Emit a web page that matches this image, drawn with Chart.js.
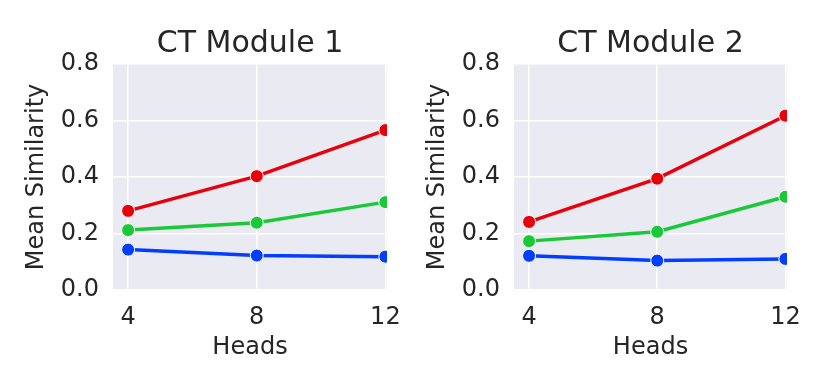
<!DOCTYPE html>
<html>
<head>
<meta charset="utf-8">
<script src="https://cdn.jsdelivr.net/npm/chart.js@4.4.1/dist/chart.umd.min.js"></script>
<style>
  html, body { margin: 0; padding: 0; background: #ffffff; }
  #wrap { position: relative; width: 830px; height: 389px; }
  .box { position: absolute; top: 0; height: 389px; }
  canvas { display: block; }
</style>
</head>
<body>
<div id="wrap">
  <div class="box" style="left:0;width:401px;"><canvas id="c1" width="401" height="389"></canvas></div>
  <div class="box" style="left:401px;width:429px;"><canvas id="c2" width="429" height="389"></canvas></div>
</div>
<script>
// ---- data ----
const heads = [4, 8, 12];
const xTickValues = [4, 8, 12];
const yTickValues = [0.0, 0.2, 0.4, 0.6, 0.8];
const titles = ["CT Module 1", "CT Module 2"];

const m1Red   = [0.280, 0.403, 0.566];
const m1Green = [0.212, 0.238, 0.311];
const m1Blue  = [0.143, 0.122, 0.118];

const m2Red   = [0.241, 0.394, 0.617];
const m2Green = [0.173, 0.206, 0.330];
const m2Blue  = [0.121, 0.104, 0.110];

const colRed = "#e8000b", colGreen = "#1ac938", colBlue = "#023eff";
const FONT = "'DejaVu Sans', sans-serif";
const TXT = "#262626";

const bgPlugin = {
  id: "bg",
  beforeDraw(chart) {
    const a = chart.chartArea, ctx = chart.ctx;
    ctx.save();
    ctx.fillStyle = "#eaeaf2";
    ctx.fillRect(a.left, a.top, a.right - a.left, a.bottom - a.top);
    ctx.restore();
  },
  afterDraw(chart) {
    const a = chart.chartArea, ctx = chart.ctx;
    ctx.save();
    ctx.fillStyle = TXT;
    ctx.font = "30px " + FONT;
    ctx.textAlign = "center";
    ctx.textBaseline = "alphabetic";
    ctx.fillText(chart.options.plugins.bg.text, (a.left + a.right) / 2, 52);
    ctx.restore();
  }
};

function mk(vals, color) {
  return {
    data: heads.map((h, i) => ({ x: h, y: vals[i] })),
    borderColor: color,
    backgroundColor: color,
    borderWidth: 3.5,
    pointRadius: 6.5,
    pointHoverRadius: 6.5,
    pointBorderColor: "#ffffff",
    pointBorderWidth: 1,
    pointBackgroundColor: color,
    tension: 0,
    clip: 0
  };
}

function build(id, title, red, green, blue, xmin, xmax, rightPad) {
  new Chart(document.getElementById(id), {
    type: "line",
    data: { datasets: [mk(blue, colBlue), mk(green, colGreen), mk(red, colRed)] },
    plugins: [bgPlugin],
    options: {
      responsive: false,
      animation: false,
      events: [],
      layout: { padding: { left: 18, right: rightPad, top: 64, bottom: 23 } },
      plugins: {
        legend: { display: false },
        tooltip: { enabled: false },
        title: { display: false },
        bg: { text: title }
      },
      scales: {
        x: {
          type: "linear", min: xmin, max: xmax,
          afterBuildTicks: s => { s.ticks = xTickValues.map(v => ({ value: v })); },
          afterFit: s => { s.height = 76; s.paddingLeft = 0; s.paddingRight = 0; },
          grid: { color: "#ffffff", lineWidth: 1.5, drawTicks: false },
          border: { display: false },
          ticks: {
            color: TXT, padding: 13, maxRotation: 0,
            font: { family: FONT, size: 24 },
            callback: v => String(v)
          },
          title: {
            display: true, text: "Heads", color: TXT,
            font: { family: FONT, size: 24 }, padding: { top: 4, bottom: 4 }
          }
        },
        y: {
          type: "linear", min: 0, max: 0.8,
          afterBuildTicks: s => { s.ticks = yTickValues.map(v => ({ value: v })); },
          afterFit: s => { s.width = 95; s.paddingTop = 0; s.paddingBottom = 0; },
          grid: { color: "#ffffff", lineWidth: 1.5, drawTicks: false },
          border: { display: false },
          ticks: {
            color: TXT, padding: 14,
            font: { family: FONT, size: 24 },
            callback: v => Number(v).toFixed(1)
          },
          title: {
            display: true, text: "Mean Similarity", color: TXT,
            font: { family: FONT, size: 24 }, padding: { top: 4, bottom: 4 }
          }
        }
      }
    }
  });
}

build("c1", titles[0], m1Red, m1Green, m1Blue, 3.53, 12.05, 14);
build("c2", titles[1], m2Red, m2Green, m2Blue, 3.53, 12.05, 43);
</script>
</body>
</html>
